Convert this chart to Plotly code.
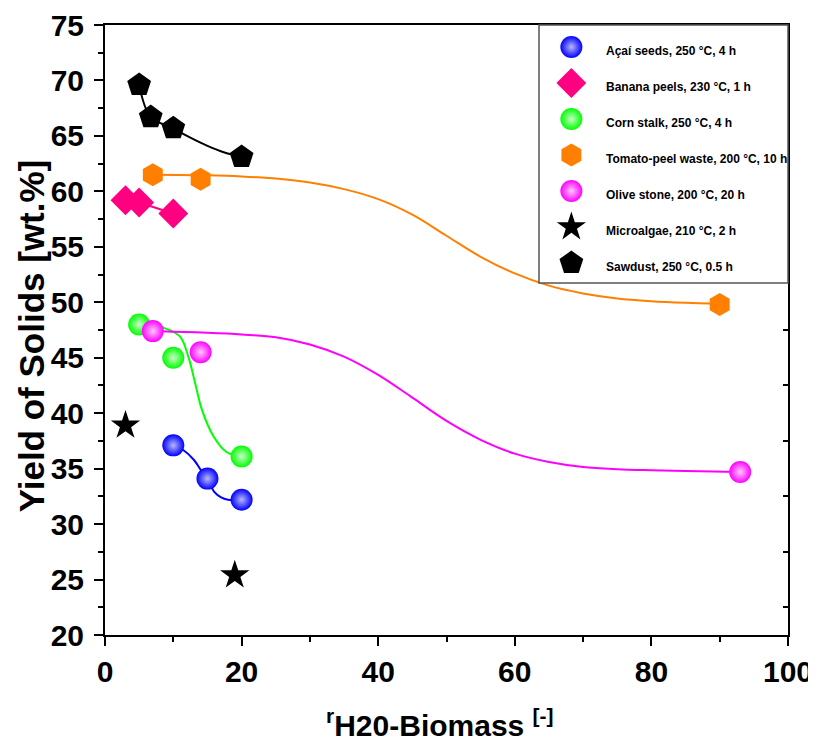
import plotly.graph_objects as go

# ---------------- data ----------------
series_names = [
    "Açaí seeds, 250 °C, 4 h",
    "Banana peels, 230 °C, 1 h",
    "Corn stalk, 250 °C, 4 h",
    "Tomato-peel waste, 200 °C, 10 h",
    "Olive stone, 200 °C, 20 h",
    "Microalgae, 210 °C, 2 h",
    "Sawdust, 250 °C, 0.5 h",
]

acai_x = [10, 15, 20]
acai_y = [37.1, 34.1, 32.2]
banana_x = [3, 5, 10]
banana_y = [59.2, 59.0, 58.0]
corn_x = [5, 10, 20]
corn_y = [48.0, 45.0, 36.1]
tomato_x = [7, 14, 90]
tomato_y = [61.5, 61.1, 49.8]
olive_x = [7, 14, 93]
olive_y = [47.4, 45.5, 34.7]
algae_x = [3, 19]
algae_y = [38.9, 25.4]
sawdust_x = [5, 6.7, 10, 20]
sawdust_y = [69.6, 66.7, 65.7, 63.1]

# fitted curves, points
acai_fit_x = [10, 11.4, 13, 14, 15, 16, 17, 18, 20]
acai_fit_y = [37.1, 36.7, 35.8, 34.9, 34.1, 32.9, 32.4, 32.2, 32.2]
banana_fit_x = [5, 10]
banana_fit_y = [59.0, 58.0]
corn_fit_x = [5, 7, 9, 11, 12.2, 13.2, 14.2, 15.9, 17.8, 20]
corn_fit_y = [48.0, 47.9, 47.6, 46.9, 45.1, 42.7, 40.3, 37.9, 36.5, 36.1]
tomato_fit_x = [7, 15, 20, 25, 30, 35, 40, 45, 50, 55, 60, 65, 70, 75, 80, 85, 90]
tomato_fit_y = [61.5, 61.45, 61.35, 61.15, 60.8, 60.2, 59.3, 57.9, 56.0, 54.1,
                52.6, 51.5, 50.8, 50.35, 50.1, 49.95, 49.85]
olive_fit_x = [7, 10, 15, 20, 25, 30, 35, 40, 45, 50, 55, 60, 65, 70, 75, 80, 85, 93]
olive_fit_y = [47.4, 47.35, 47.25, 47.1, 46.85, 46.2, 45.1, 43.45, 41.4, 39.3,
               37.6, 36.35, 35.6, 35.15, 34.95, 34.85, 34.78, 34.7]
sawdust_fit_x = [5, 6.7, 10, 12, 15, 17.5, 20]
sawdust_fit_y = [69.6, 66.7, 65.7, 65.0, 64.1, 63.5, 63.1]

x_ticks = [0, 20, 40, 60, 80, 100]
y_ticks = [20, 25, 30, 35, 40, 45, 50, 55, 60, 65, 70, 75]

# ---------------- styles ----------------
BLUE = "#0000ff"
PINK = "#ff0080"
GREEN = "#00ff00"
ORANGE = "#ff8000"
MAGENTA = "#ff00ff"
BLACK = "#000000"
FONT = "Arial, Liberation Sans, sans-serif"


def sphere(color, light, size=22):
    return dict(symbol="circle", size=size, color=color,
                gradient=dict(type="radial", color=light),
                line=dict(width=0))


markers = [
    sphere(BLUE, "#b8b8ff"),
    dict(symbol="diamond", size=23, color=PINK, line=dict(width=0)),
    sphere(GREEN, "#c8ffc8"),
    dict(symbol="hexagon", size=23, color=ORANGE, line=dict(width=0)),
    sphere(MAGENTA, "#ffc8ff"),
    dict(symbol="star", size=22, color=BLACK, line=dict(width=0)),
    dict(symbol="pentagon", size=25, color=BLACK, line=dict(width=0)),
]

fig = go.Figure()

fits = [
    (acai_fit_x, acai_fit_y, BLUE),
    (banana_fit_x, banana_fit_y, PINK),
    (corn_fit_x, corn_fit_y, GREEN),
    (tomato_fit_x, tomato_fit_y, ORANGE),
    (olive_fit_x, olive_fit_y, MAGENTA),
    (sawdust_fit_x, sawdust_fit_y, BLACK),
]
for fx, fy, c in fits:
    fig.add_trace(go.Scatter(x=fx, y=fy, mode="lines",
                             line=dict(color=c, width=2, shape="spline", smoothing=1.0),
                             showlegend=False, hoverinfo="skip"))

pts = [
    (acai_x, acai_y), (banana_x, banana_y), (corn_x, corn_y),
    (tomato_x, tomato_y), (olive_x, olive_y), (algae_x, algae_y),
    (sawdust_x, sawdust_y),
]
for (px, py), m, name in zip(pts, markers, series_names):
    fig.add_trace(go.Scatter(x=px, y=py, mode="markers", marker=m,
                             name=name, showlegend=False))

# ---------------- manual legend (on its own axes) ----------------
legend_rows = list(range(len(series_names)))
for i, (m, name) in enumerate(zip(markers, series_names)):
    fig.add_trace(go.Scatter(x=[0.13], y=[legend_rows[i]], mode="markers",
                             marker=m, xaxis="x3", yaxis="y3",
                             showlegend=False, hoverinfo="skip"))
    fig.add_annotation(x=0.262, y=legend_rows[i], xref="x3", yref="y3",
                       text=name, showarrow=False, xanchor="left",
                       yanchor="middle", yshift=-4,
                       font=dict(family=FONT, size=12, color="black", weight="bold"))

# plot area in page pixels: x 105..788, y 25..635 (page body adds 8px offset)
L_X0 = (539 - 105) / 683
L_Y0 = (635 - 283) / 610

fig.update_layout(
    width=816, height=753,
    margin=dict(l=97, r=36, t=17, b=126, autoexpand=False),
    paper_bgcolor="white", plot_bgcolor="white",
    showlegend=False,
    xaxis=dict(range=[0, 100], tickvals=x_ticks, showgrid=False, zeroline=False,
               automargin=False,
               showline=True, linecolor="black", linewidth=2, mirror=True,
               ticks="outside", ticklen=9, tickwidth=2, tickcolor="black",
               minor=dict(dtick=10, tick0=0, ticks="outside", ticklen=5,
                          tickwidth=2, tickcolor="black"),
               tickfont=dict(family=FONT, size=30, color="black", weight="bold")),
    yaxis=dict(range=[20, 75], tickvals=y_ticks, showgrid=False, zeroline=False,
               automargin=False, ticklabelstandoff=4,
               showline=True, linecolor="black", linewidth=2, mirror=True,
               ticks="outside", ticklen=9, tickwidth=2, tickcolor="black",
               minor=dict(dtick=2.5, tick0=0, ticks="outside", ticklen=5,
                          tickwidth=2, tickcolor="black"),
               tickfont=dict(family=FONT, size=30, color="black", weight="bold")),
    yaxis2=dict(range=[20, 75], overlaying="y", side="right", anchor="x",
                automargin=False,
                tick0=22.5, dtick=5, ticks="inside", ticklen=5, tickwidth=2,
                tickcolor="black", showticklabels=False, showgrid=False,
                zeroline=False, showline=False),
    xaxis3=dict(domain=[L_X0, 1], range=[0, 1], anchor="y3", visible=False,
                fixedrange=True),
    yaxis3=dict(domain=[L_Y0, 1], range=[6.556, -0.611], anchor="x3",
                visible=False, fixedrange=True),
    shapes=[dict(type="rect", xref="paper", yref="paper", x0=L_X0, x1=1,
                 y0=L_Y0, y1=1, line=dict(color="#555555", width=1.5),
                 fillcolor="rgba(0,0,0,0)")],
)

fig.add_annotation(xref="paper", yref="paper", x=-0.108, y=0.49,
                   text="Yield of Solids [wt.%]", textangle=-90, showarrow=False,
                   xanchor="center", yanchor="middle",
                   font=dict(family=FONT, size=35, color="black", weight="bold"))
fig.add_annotation(xref="paper", yref="paper", x=0.49, y=-0.144,
                   text="<sup>r</sup>H20-Biomass <sup>[-]</sup>", showarrow=False,
                   xanchor="center", yanchor="middle",
                   font=dict(family=FONT, size=30, color="black", weight="bold"))

# dummy trace so yaxis2 is drawn
fig.add_trace(go.Scatter(x=[None], y=[None], yaxis="y2", showlegend=False,
                         hoverinfo="skip"))

fig.write_html("out.html")
